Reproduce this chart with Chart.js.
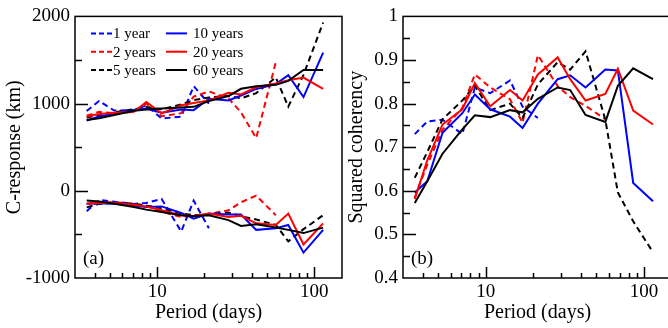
<!DOCTYPE html>
<html>
<head>
<meta charset="utf-8">
<script src="https://cdn.jsdelivr.net/npm/chart.js@4/dist/chart.umd.min.js"></script>
<style>
  html, body { margin: 0; padding: 0; background: #fff; overflow: hidden; }
  body { width: 668px; height: 328px; position: relative; }
  .panel { position: absolute; top: 0; }
  #chartA { left: 0; }
  #chartB { left: 345px; }
</style>
</head>
<body>
<canvas id="chartA" class="panel" width="345" height="328"></canvas>
<canvas id="chartB" class="panel" width="330" height="328"></canvas>
<script>
// periods (days) shared by all series
const periods = [3.56, 4.27, 5.33, 7.11, 8.53, 10.67, 14.22, 17.07, 21.33, 28.44, 34.13, 42.67, 56.89, 68.27, 85.33, 113.78];

const seriesNames = ["1 year", "2 years", "5 years", "10 years", "20 years", "60 years"];

// C-response, real part (km)
const real1y  = [915, 1030, 920, 925, 980, 830, 850, 1200, 1000];
const real2y  = [860, 905, 890, 905, 1000, 855, 890, 1080, 1140, 1060, 900, 605, 1475];
const real5y  = [840, 870, 900, 935, 960, 935, 990, 1040, 1070, 1090, 1060, 1120, 1300, 965, 1330, 1930];
const real10y = [806, 851, 888, 925, 944, 896, 933, 925, 1056, 1037, 1093, 1168, 1224, 1325, 1075, 1585];
const real20y = [851, 881, 896, 907, 1019, 888, 981, 1007, 1037, 1123, 1105, 1187, 1231, 1269, 1299, 1170];
const real60y = [813, 832, 869, 918, 933, 944, 955, 963, 1030, 1085, 1170, 1200, 1215, 1260, 1385, 1385];

// C-response, imaginary part (km)
const imag1y  = [-235, -104, -125, -150, -140, -93, -467, -112, -429];
const imag2y  = [-150, -130, -130, -150, -170, -240, -300, -280, -265, -224, -131, -56, -280];
const imag5y  = [-190, -150, -140, -150, -170, -200, -260, -280, -270, -250, -290, -330, -390, -580, -440, -280];
const imag10y = [-149, -142, -149, -168, -187, -179, -254, -320, -261, -272, -272, -448, -429, -392, -709, -448];
const imag20y = [-149, -140, -140, -160, -180, -224, -280, -290, -261, -299, -286, -373, -392, -261, -616, -373];
const imag60y = [-112, -123, -149, -187, -216, -243, -280, -291, -280, -336, -403, -385, -422, -448, -485, -422];

// squared coherency
const coh1y  = [0.730, 0.759, 0.763, 0.730, 0.837, 0.824, 0.853, 0.793, 0.767];
const coh2y  = [0.585, 0.66, 0.74, 0.79, 0.867, 0.837, 0.81, 0.756, 0.911, 0.84, 0.815, 0.795, 0.764];
const coh5y  = [0.630, 0.689, 0.764, 0.807, 0.841, 0.785, 0.800, 0.767, 0.844, 0.895, 0.878, 0.920, 0.763, 0.596, 0.530, 0.459];
const coh10y = [0.596, 0.622, 0.733, 0.778, 0.821, 0.787, 0.770, 0.744, 0.800, 0.856, 0.865, 0.837, 0.878, 0.876, 0.618, 0.576];
const coh20y = [0.581, 0.67, 0.752, 0.787, 0.847, 0.794, 0.831, 0.807, 0.867, 0.906, 0.856, 0.807, 0.822, 0.880, 0.784, 0.752];
const coh60y = [0.572, 0.622, 0.685, 0.741, 0.773, 0.769, 0.785, 0.780, 0.811, 0.837, 0.831, 0.774, 0.758, 0.841, 0.881, 0.856];

const colors = ["#0000ff", "#ff0000", "#000000", "#0000ff", "#ff0000", "#000000"];
const dashed = [true, true, true, false, false, false];

Chart.defaults.font.family = '"Liberation Serif", "Times New Roman", serif';
Chart.defaults.color = "#000";

function pts(vals) {
  return vals.map((v, i) => ({ x: periods[i], y: v }));
}

function line(label, vals, idx) {
  return {
    label: label,
    data: pts(vals),
    borderColor: colors[idx],
    backgroundColor: colors[idx],
    borderWidth: 2,
    borderDash: dashed[idx] ? [6, 4] : [],
    pointRadius: 0,
    tension: 0,
    fill: false,
  };
}

// frame, inward ticks and panel tag
const frameTicks = {
  id: "frameTicks",
  afterDatasetsDraw(chart, args, opts) {
    const { ctx, chartArea: a, scales: { x, y } } = chart;
    ctx.save();
    ctx.strokeStyle = "#000";
    ctx.lineWidth = 1.5;
    ctx.strokeRect(a.left, a.top, a.right - a.left, a.bottom - a.top);
    ctx.beginPath();
    for (const d of [1, 10, 100]) {
      for (let m = 1; m < 10; m++) {
        const v = d * m;
        if (v <= x.min || v >= x.max) continue;
        const px = Math.round(x.getPixelForValue(v)) + 0.5;
        const len = m === 1 ? 11 : 5;
        ctx.moveTo(px, a.bottom);
        ctx.lineTo(px, a.bottom - len);
      }
    }
    const n = Math.round((y.max - y.min) / opts.minor);
    for (let k = 1; k < n; k++) {
      const v = y.min + k * opts.minor;
      const py = Math.round(y.getPixelForValue(v)) + 0.5;
      const len = k % 2 === 0 ? 13 : 7;
      ctx.moveTo(a.left, py);
      ctx.lineTo(a.left + len, py);
    }
    ctx.stroke();
    ctx.fillStyle = "#000";
    ctx.font = '19px "Liberation Serif"';
    ctx.textBaseline = "middle";
    ctx.fillText(opts.tag, a.left + 8, a.bottom - 19);
    ctx.restore();
  },
};

// two-column legend inside panel (a)
const insideLegend = {
  id: "insideLegend",
  afterDraw(chart, args, opts) {
    if (!opts.show) return;
    const { ctx, chartArea: a } = chart;
    ctx.save();
    ctx.font = '15px "Liberation Serif"';
    ctx.textBaseline = "middle";
    ctx.lineWidth = 2;
    seriesNames.forEach((name, i) => {
      const col = i < 3 ? 0 : 1;
      const row = i % 3;
      const x0 = a.left + (col === 0 ? 16 : 91);
      const yy = a.top + 17 + row * 18.3;
      ctx.strokeStyle = colors[i];
      ctx.setLineDash(dashed[i] ? [5, 3] : []);
      ctx.beginPath();
      ctx.moveTo(x0, yy);
      ctx.lineTo(x0 + 21, yy);
      ctx.stroke();
      ctx.fillStyle = "#000";
      ctx.fillText(name, x0 + (col === 0 ? 22 : 27), yy + 1);
    });
    ctx.restore();
  },
};

function xAxis() {
  return {
    type: "logarithmic",
    min: 3,
    max: 150,
    grid: { display: false, drawTicks: false },
    border: { display: false },
    ticks: {
      autoSkip: false,
      maxRotation: 0,
      padding: 3,
      font: { size: 19 },
      callback: (v) => (Math.abs(v - 10) < 1e-6 ? "10" : Math.abs(v - 100) < 1e-6 ? "100" : ""),
    },
    title: { display: true, text: "Period (days)", font: { size: 20 }, padding: { top: 0, bottom: 3 } },
    afterFit: (s) => { s.height = 50; },
  };
}

const setA = [
  line("1 year", real1y, 0), line("1 year", imag1y, 0),
  line("2 years", real2y, 1), line("2 years", imag2y, 1),
  line("5 years", real5y, 2), line("5 years", imag5y, 2),
  line("10 years", real10y, 3), line("10 years", imag10y, 3),
  line("20 years", real20y, 4), line("20 years", imag20y, 4),
  line("60 years", real60y, 5), line("60 years", imag60y, 5),
].reverse();

const setB = [
  line("1 year", coh1y, 0), line("2 years", coh2y, 1), line("5 years", coh5y, 2),
  line("10 years", coh10y, 3), line("20 years", coh20y, 4), line("60 years", coh60y, 5),
].reverse();

new Chart(document.getElementById("chartA"), {
  type: "line",
  data: { datasets: setA },
  plugins: [frameTicks, insideLegend],
  options: {
    responsive: false,
    animation: false,
    layout: { padding: { top: 10, right: 2, left: 0, bottom: 0 } },
    plugins: {
      legend: { display: false },
      tooltip: { enabled: false },
      frameTicks: { minor: 500, tag: "(a)" },
      insideLegend: { show: true },
    },
    scales: {
      x: xAxis(),
      y: {
        min: -1000,
        max: 2000,
        grid: { display: false, drawTicks: false },
        border: { display: false },
        ticks: { stepSize: 1000, padding: 5, font: { size: 19 }, callback: (v) => String(v) },
        title: { display: true, text: "C-response (km)", font: { size: 20 }, padding: { top: 3, bottom: 0 } },
        afterFit: (s) => { s.width = 75; },
      },
    },
  },
});

new Chart(document.getElementById("chartB"), {
  type: "line",
  data: { datasets: setB },
  plugins: [frameTicks],
  options: {
    responsive: false,
    animation: false,
    layout: { padding: { top: 10, right: 3, left: 0, bottom: 0 } },
    plugins: {
      legend: { display: false },
      tooltip: { enabled: false },
      frameTicks: { minor: 0.05, tag: "(b)" },
    },
    scales: {
      x: xAxis(),
      y: {
        min: 0.4,
        max: 1,
        grid: { display: false, drawTicks: false },
        border: { display: false },
        ticks: { stepSize: 0.1, padding: 5, font: { size: 19 }, callback: (v) => String(Math.round(v * 10) / 10) },
        title: { display: true, text: "Squared coherency", font: { size: 20 }, padding: { top: 0, bottom: 0 } },
        afterFit: (s) => { s.width = 58; },
      },
    },
  },
});
</script>
</body>
</html>
